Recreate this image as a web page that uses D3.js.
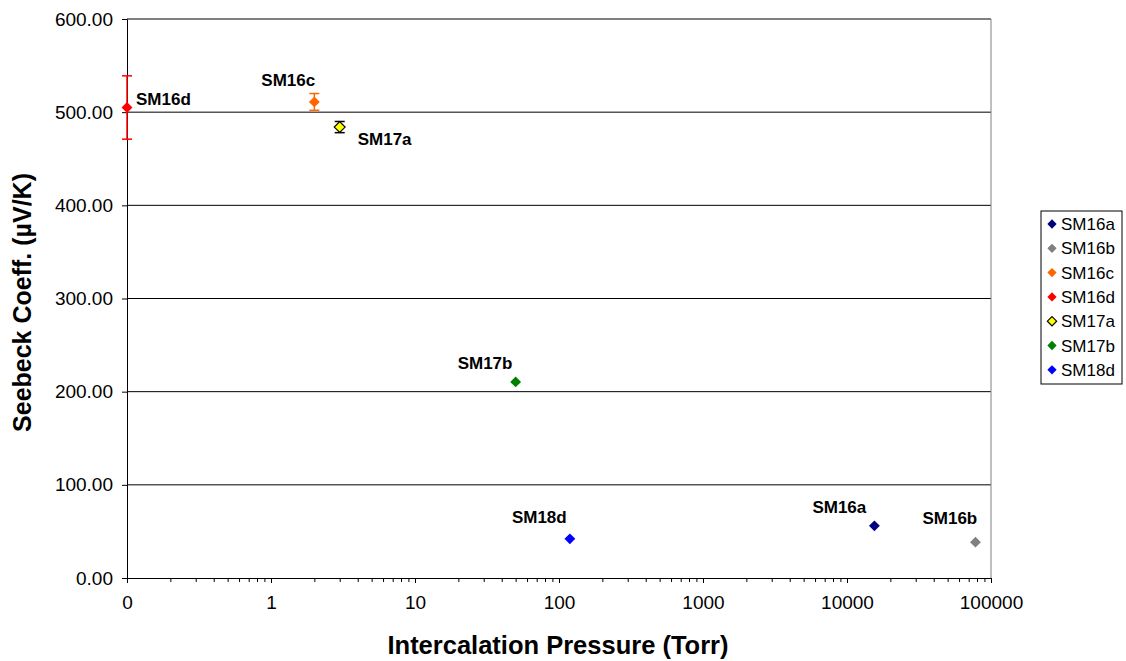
<!DOCTYPE html>
<html>
<head>
<meta charset="utf-8">
<script src="https://cdn.jsdelivr.net/npm/d3@7"></script>
<style>
  body { margin: 0; background: #fff; }
  .vis { width: 1126px; height: 661px; }
  text { font-family: "Liberation Sans", Arial, sans-serif; }
</style>
</head>
<body>
<div class="vis"></div>
<script>
(function() {
  'use strict';

  // samples, pressure (Torr), Seebeck coefficient (uV/K), error bar half-height
  var samples = ['SM16a', 'SM16b', 'SM16c', 'SM16d', 'SM17a', 'SM17b', 'SM18d'];
  var pressures = [15500, 78000, 2, 0.1, 3, 50, 119];
  var seebeck = [56, 38.5, 511, 505, 484, 210.5, 42];
  var errors = [0, 0, 9, 34, 6, 0, 0];
  var colors = ['#000080', '#808080', '#ff6600', '#ff0000', '#ffff00', '#008000', '#0000ff'];
  var yTicks = [0, 100, 200, 300, 400, 500, 600];
  var xTicks = [0.1, 1, 10, 100, 1000, 10000, 100000];
  var xTickLabels = ['0', '1', '10', '100', '1000', '10000', '100000'];

  var el = d3.select('.vis'),
    elWidth = 1126,
    elHeight = 661,
    margin = {top: 19, right: 135, bottom: 83, left: 127},
    width = elWidth - margin.left - margin.right,
    height = elHeight - margin.top - margin.bottom;

  var svg = el.append('svg')
      .attr('width', elWidth)
      .attr('height', elHeight);

  var g = svg.append('g')
      .attr('transform', 'translate(' + margin.left + ',' + margin.top + ')');

  var x = d3.scaleLog().domain([0.1, 100000]).range([0, width]);
  var y = d3.scaleLinear().domain([0, 600]).range([height, 0]);

  // gridlines
  g.selectAll('.grid')
    .data(yTicks.slice(1))
    .enter().append('line')
      .attr('x1', 0)
      .attr('x2', width)
      .attr('y1', function(d) { return y(d); })
      .attr('y2', function(d) { return y(d); })
      .attr('stroke', '#000')
      .attr('stroke-width', 1);

  // right border
  g.append('line')
    .attr('x1', width).attr('x2', width)
    .attr('y1', 0).attr('y2', height)
    .attr('stroke', '#808080');

  // y axis
  var yAxis = g.append('g')
    .call(d3.axisLeft(y).tickValues(yTicks).tickSize(5).tickFormat(d3.format('.2f')));
  yAxis.select('.domain').attr('stroke', '#000');
  yAxis.selectAll('text')
    .attr('font-size', 19)
    .attr('font-family', '"Liberation Sans", Arial, sans-serif')
    .attr('fill', '#000')
    .attr('dx', -6);

  // x axis, minor ticks
  var minor = [];
  xTicks.slice(0, -1).forEach(function(t) {
    for (var k = 2; k <= 9; k++) minor.push(t * k);
  });
  g.append('g')
    .attr('transform', 'translate(0,' + height + ')')
    .call(d3.axisBottom(x).tickValues(minor).tickSize(4).tickFormat(''))
    .select('.domain').remove();

  var xAxis = g.append('g')
    .attr('transform', 'translate(0,' + height + ')')
    .call(d3.axisBottom(x).tickValues(xTicks).tickSize(5)
      .tickFormat(function(d, i) { return xTickLabels[i]; }));
  xAxis.select('.domain').attr('stroke', '#000');
  xAxis.selectAll('text')
    .attr('font-size', 19)
    .attr('font-family', '"Liberation Sans", Arial, sans-serif')
    .attr('fill', '#000')
    .attr('dy', '1.2em');

  // axis titles
  svg.append('text')
    .attr('x', margin.left + width / 2 - 1)
    .attr('y', 654)
    .attr('text-anchor', 'middle')
    .attr('font-size', 25.5)
    .attr('font-weight', 'bold')
    .text('Intercalation Pressure (Torr)');

  svg.append('text')
    .attr('transform', 'translate(31,' + (margin.top + height / 2 + 4) + ') rotate(-90)')
    .attr('text-anchor', 'middle')
    .attr('font-size', 25)
    .attr('font-weight', 'bold')
    .text('Seebeck Coeff. (\u00b5V/K)');

  var data = samples.map(function(s, i) {
    return {name: s, p: pressures[i], v: seebeck[i], e: errors[i], c: colors[i]};
  });

  var diamond = d3.symbol().type(d3.symbolDiamond2).size(75);

  // error bars
  var eb = g.selectAll('.err')
    .data(data.filter(function(d) { return d.e > 0; }))
    .enter().append('g')
      .attr('stroke', function(d) { return d.name === 'SM17a' ? '#000' : d.c; })
      .attr('stroke-width', 1.5);
  eb.append('line')
    .attr('x1', function(d) { return x(d.p); })
    .attr('x2', function(d) { return x(d.p); })
    .attr('y1', function(d) { return y(d.v + d.e); })
    .attr('y2', function(d) { return y(d.v - d.e); });
  [1, -1].forEach(function(sg) {
    eb.append('line')
      .attr('x1', function(d) { return x(d.p) - 5; })
      .attr('x2', function(d) { return x(d.p) + 5; })
      .attr('y1', function(d) { return y(d.v + sg * d.e); })
      .attr('y2', function(d) { return y(d.v + sg * d.e); });
  });

  // points
  g.selectAll('.point')
    .data(data)
    .enter().append('path')
      .attr('class', 'point')
      .attr('d', diamond)
      .attr('transform', function(d) { return 'translate(' + x(d.p) + ',' + y(d.v) + ')'; })
      .attr('fill', function(d) { return d.c; })
      .attr('stroke', function(d) { return d.name === 'SM17a' ? '#000' : 'none'; })
      .attr('stroke-width', 1.2);

  // point labels
  var labelPos = {
    SM16a: [-62, -13], SM16b: [-53, -18], SM16c: [-53, -16], SM16d: [9, -3],
    SM17a: [18, 18], SM17b: [-58, -13], SM18d: [-58, -16]
  };
  g.selectAll('.lbl')
    .data(data)
    .enter().append('text')
      .attr('x', function(d) { return x(d.p) + labelPos[d.name][0]; })
      .attr('y', function(d) { return y(d.v) + labelPos[d.name][1]; })
      .attr('font-size', 17)
      .attr('font-weight', 'bold')
      .text(function(d) { return d.name; });

  // legend
  var lg = svg.append('g').attr('transform', 'translate(1041,211)');
  lg.append('rect')
    .attr('width', 81).attr('height', 173)
    .attr('fill', '#fff').attr('stroke', '#000');
  var items = lg.selectAll('.item')
    .data(data)
    .enter().append('g')
      .attr('transform', function(d, i) { return 'translate(11,' + (13 + i * 24.3) + ')'; });
  items.append('path')
    .attr('d', d3.symbol().type(d3.symbolDiamond2).size(55))
    .attr('fill', function(d) { return d.c; })
    .attr('stroke', function(d) { return d.name === 'SM17a' ? '#000' : 'none'; })
    .attr('stroke-width', 1.2);
  items.append('text')
    .attr('x', 9)
    .attr('y', 6)
    .attr('font-size', 17)
    .text(function(d) { return d.name; });
}());
</script>
</body>
</html>
